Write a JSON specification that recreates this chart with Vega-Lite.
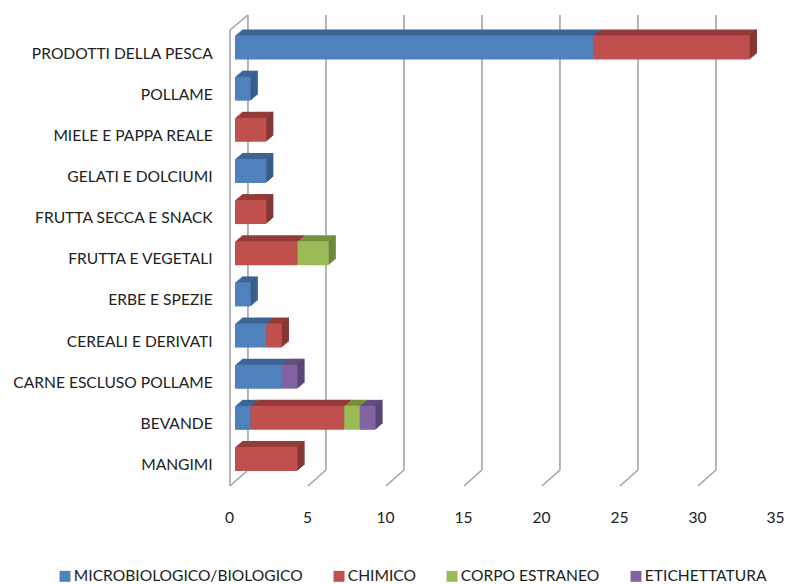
{"$schema":"https://vega.github.io/schema/vega-lite/v6.json","width":561.6,"height":480,"autosize":{"type":"none"},"padding":{"left":227.2,"top":13.25,"right":2.2,"bottom":90.75},"background":"white","config":{"view":{"stroke":null},"font":"Lato","axisX":{"grid":false,"domain":false,"ticks":false,"tickCount":8,"labelOffset":-6,"labelPadding":17,"labelFontSize":15.6,"labelColor":"#222222","labelFont":"Lato"}},"datasets":{"rows":[{"category":"PRODOTTI DELLA PESCA","series":"MICROBIOLOGICO/BIOLOGICO","n":1,"value":23},{"category":"PRODOTTI DELLA PESCA","series":"CHIMICO","n":2,"value":10},{"category":"POLLAME","series":"MICROBIOLOGICO/BIOLOGICO","n":1,"value":1},{"category":"MIELE E PAPPA REALE","series":"CHIMICO","n":2,"value":2},{"category":"GELATI E DOLCIUMI","series":"MICROBIOLOGICO/BIOLOGICO","n":1,"value":2},{"category":"FRUTTA SECCA E SNACK","series":"CHIMICO","n":2,"value":2},{"category":"FRUTTA E VEGETALI","series":"CHIMICO","n":2,"value":4},{"category":"FRUTTA E VEGETALI","series":"CORPO ESTRANEO","n":3,"value":2},{"category":"ERBE E SPEZIE","series":"MICROBIOLOGICO/BIOLOGICO","n":1,"value":1},{"category":"CEREALI E DERIVATI","series":"MICROBIOLOGICO/BIOLOGICO","n":1,"value":2},{"category":"CEREALI E DERIVATI","series":"CHIMICO","n":2,"value":1},{"category":"CARNE ESCLUSO POLLAME","series":"MICROBIOLOGICO/BIOLOGICO","n":1,"value":3},{"category":"CARNE ESCLUSO POLLAME","series":"ETICHETTATURA","n":4,"value":1},{"category":"BEVANDE","series":"MICROBIOLOGICO/BIOLOGICO","n":1,"value":1},{"category":"BEVANDE","series":"CHIMICO","n":2,"value":6},{"category":"BEVANDE","series":"CORPO ESTRANEO","n":3,"value":1},{"category":"BEVANDE","series":"ETICHETTATURA","n":4,"value":1},{"category":"MANGIMI","series":"CHIMICO","n":2,"value":4}],"grid":[{"a":-0.32,"b":-0.32,"y0":7.25,"y1":463.25},{"a":-0.32,"b":0.83,"y0":463.25,"y1":478.25},{"a":0.83,"b":0.83,"y0":23.25,"y1":478.25},{"a":-0.32,"b":0.83,"y0":7.25,"y1":23.25},{"a":5.83,"b":5.83,"y0":23.25,"y1":478.25},{"a":4.68,"b":5.83,"y0":7.25,"y1":23.25},{"a":10.83,"b":10.83,"y0":23.25,"y1":478.25},{"a":9.68,"b":10.83,"y0":7.25,"y1":23.25},{"a":15.83,"b":15.83,"y0":23.25,"y1":478.25},{"a":14.68,"b":15.83,"y0":7.25,"y1":23.25},{"a":20.83,"b":20.83,"y0":23.25,"y1":478.25},{"a":19.68,"b":20.83,"y0":7.25,"y1":23.25},{"a":25.83,"b":25.83,"y0":23.25,"y1":478.25},{"a":24.68,"b":25.83,"y0":7.25,"y1":23.25},{"a":30.83,"b":30.83,"y0":23.25,"y1":478.25},{"a":29.68,"b":30.83,"y0":7.25,"y1":23.25}]},"resolve":{"scale":{"y":"independent"}},"layer":[{"data":{"name":"grid"},"mark":{"type":"rule","color":"#A3A3A3","strokeWidth":1.6},"encoding":{"x":{"field":"a","type":"quantitative","title":null,"scale":{"domain":[-0.5,35.5],"nice":false}},"x2":{"field":"b"},"y":{"field":"y0","type":"quantitative","scale":{"domain":[0,480],"nice":false},"axis":null},"y2":{"field":"y1"}}},{"data":{"name":"rows"},"transform":[{"stack":"value","groupby":["category"],"sort":[{"field":"n","order":"ascending"}],"as":["x0","x1"]},{"joinaggregate":[{"op":"max","field":"x1","as":"end"}],"groupby":["category"]},{"calculate":"datum.x1-0.05","as":"xs"}],"resolve":{"scale":{"color":"independent"}},"encoding":{"x":{"field":"x0","type":"quantitative","title":null},"x2":{"field":"x1"},"y":{"field":"category","type":"nominal","sort":["PRODOTTI DELLA PESCA","POLLAME","MIELE E PAPPA REALE","GELATI E DOLCIUMI","FRUTTA SECCA E SNACK","FRUTTA E VEGETALI","ERBE E SPEZIE","CEREALI E DERIVATI","CARNE ESCLUSO POLLAME","BEVANDE","MANGIMI"],"scale":{"paddingInner":0.417,"paddingOuter":0.541},"axis":{"title":null,"domain":false,"ticks":false,"labelPadding":15,"labelOffset":6,"labelFontSize":15.6,"labelColor":"#222222","labelFont":"Lato","labelLimit":300}}},"layer":[{"mark":{"type":"bar","xOffset":7,"x2Offset":7,"yOffset":-6,"strokeWidth":0.5,"cornerRadius":0},"encoding":{"color":{"field":"series","legend":null,"scale":{"domain":["MICROBIOLOGICO/BIOLOGICO","CHIMICO","CORPO ESTRANEO","ETICHETTATURA"],"range":["#3C6595","#953B39","#78913F","#634D80"]}}}},{"mark":{"type":"bar","xOffset":5.8,"x2Offset":5.8,"yOffset":-5},"encoding":{"color":{"field":"series","legend":null,"scale":{"domain":["MICROBIOLOGICO/BIOLOGICO","CHIMICO","CORPO ESTRANEO","ETICHETTATURA"],"range":["#3C6595","#953B39","#78913F","#634D80"]}}}},{"mark":{"type":"bar","xOffset":4.7,"x2Offset":4.7,"yOffset":-4},"encoding":{"color":{"field":"series","legend":null,"scale":{"domain":["MICROBIOLOGICO/BIOLOGICO","CHIMICO","CORPO ESTRANEO","ETICHETTATURA"],"range":["#3C6595","#953B39","#78913F","#634D80"]}}}},{"mark":{"type":"bar","xOffset":3.5,"x2Offset":3.5,"yOffset":-3},"encoding":{"color":{"field":"series","legend":null,"scale":{"domain":["MICROBIOLOGICO/BIOLOGICO","CHIMICO","CORPO ESTRANEO","ETICHETTATURA"],"range":["#3C6595","#953B39","#78913F","#634D80"]}}}},{"mark":{"type":"bar","xOffset":2.3,"x2Offset":2.3,"yOffset":-2},"encoding":{"color":{"field":"series","legend":null,"scale":{"domain":["MICROBIOLOGICO/BIOLOGICO","CHIMICO","CORPO ESTRANEO","ETICHETTATURA"],"range":["#3C6595","#953B39","#78913F","#634D80"]}}}},{"mark":{"type":"bar","xOffset":1.2,"x2Offset":1.2,"yOffset":-1},"encoding":{"color":{"field":"series","legend":null,"scale":{"domain":["MICROBIOLOGICO/BIOLOGICO","CHIMICO","CORPO ESTRANEO","ETICHETTATURA"],"range":["#3C6595","#953B39","#78913F","#634D80"]}}}},{"transform":[{"filter":"datum.x1===datum.end"}],"mark":{"type":"bar","xOffset":7,"x2Offset":7,"yOffset":-6},"encoding":{"x":{"field":"xs","type":"quantitative","title":null},"color":{"field":"series","legend":null,"scale":{"domain":["MICROBIOLOGICO/BIOLOGICO","CHIMICO","CORPO ESTRANEO","ETICHETTATURA"],"range":["#375B85","#7E3532","#6B833C","#584570"]}}}},{"transform":[{"filter":"datum.x1===datum.end"}],"mark":{"type":"bar","xOffset":5.8,"x2Offset":5.8,"yOffset":-5},"encoding":{"x":{"field":"xs","type":"quantitative","title":null},"color":{"field":"series","legend":null,"scale":{"domain":["MICROBIOLOGICO/BIOLOGICO","CHIMICO","CORPO ESTRANEO","ETICHETTATURA"],"range":["#375B85","#7E3532","#6B833C","#584570"]}}}},{"transform":[{"filter":"datum.x1===datum.end"}],"mark":{"type":"bar","xOffset":4.7,"x2Offset":4.7,"yOffset":-4},"encoding":{"x":{"field":"xs","type":"quantitative","title":null},"color":{"field":"series","legend":null,"scale":{"domain":["MICROBIOLOGICO/BIOLOGICO","CHIMICO","CORPO ESTRANEO","ETICHETTATURA"],"range":["#375B85","#7E3532","#6B833C","#584570"]}}}},{"transform":[{"filter":"datum.x1===datum.end"}],"mark":{"type":"bar","xOffset":3.5,"x2Offset":3.5,"yOffset":-3},"encoding":{"x":{"field":"xs","type":"quantitative","title":null},"color":{"field":"series","legend":null,"scale":{"domain":["MICROBIOLOGICO/BIOLOGICO","CHIMICO","CORPO ESTRANEO","ETICHETTATURA"],"range":["#375B85","#7E3532","#6B833C","#584570"]}}}},{"transform":[{"filter":"datum.x1===datum.end"}],"mark":{"type":"bar","xOffset":2.3,"x2Offset":2.3,"yOffset":-2},"encoding":{"x":{"field":"xs","type":"quantitative","title":null},"color":{"field":"series","legend":null,"scale":{"domain":["MICROBIOLOGICO/BIOLOGICO","CHIMICO","CORPO ESTRANEO","ETICHETTATURA"],"range":["#375B85","#7E3532","#6B833C","#584570"]}}}},{"transform":[{"filter":"datum.x1===datum.end"}],"mark":{"type":"bar","xOffset":1.2,"x2Offset":1.2,"yOffset":-1},"encoding":{"x":{"field":"xs","type":"quantitative","title":null},"color":{"field":"series","legend":null,"scale":{"domain":["MICROBIOLOGICO/BIOLOGICO","CHIMICO","CORPO ESTRANEO","ETICHETTATURA"],"range":["#375B85","#7E3532","#6B833C","#584570"]}}}},{"mark":{"type":"bar"},"encoding":{"color":{"field":"series","title":null,"scale":{"domain":["MICROBIOLOGICO/BIOLOGICO","CHIMICO","CORPO ESTRANEO","ETICHETTATURA"],"range":["#4F81BD","#C0504D","#9BBB59","#8064A2"]},"legend":{"orient":"none","legendX":-170,"legendY":555,"direction":"horizontal","columns":4,"columnPadding":28,"symbolType":"square","symbolSize":120,"symbolStrokeWidth":0,"labelOffset":1,"labelFontSize":15.6,"labelColor":"#222222","labelFont":"Lato","labelLimit":400}}}}]}]}
